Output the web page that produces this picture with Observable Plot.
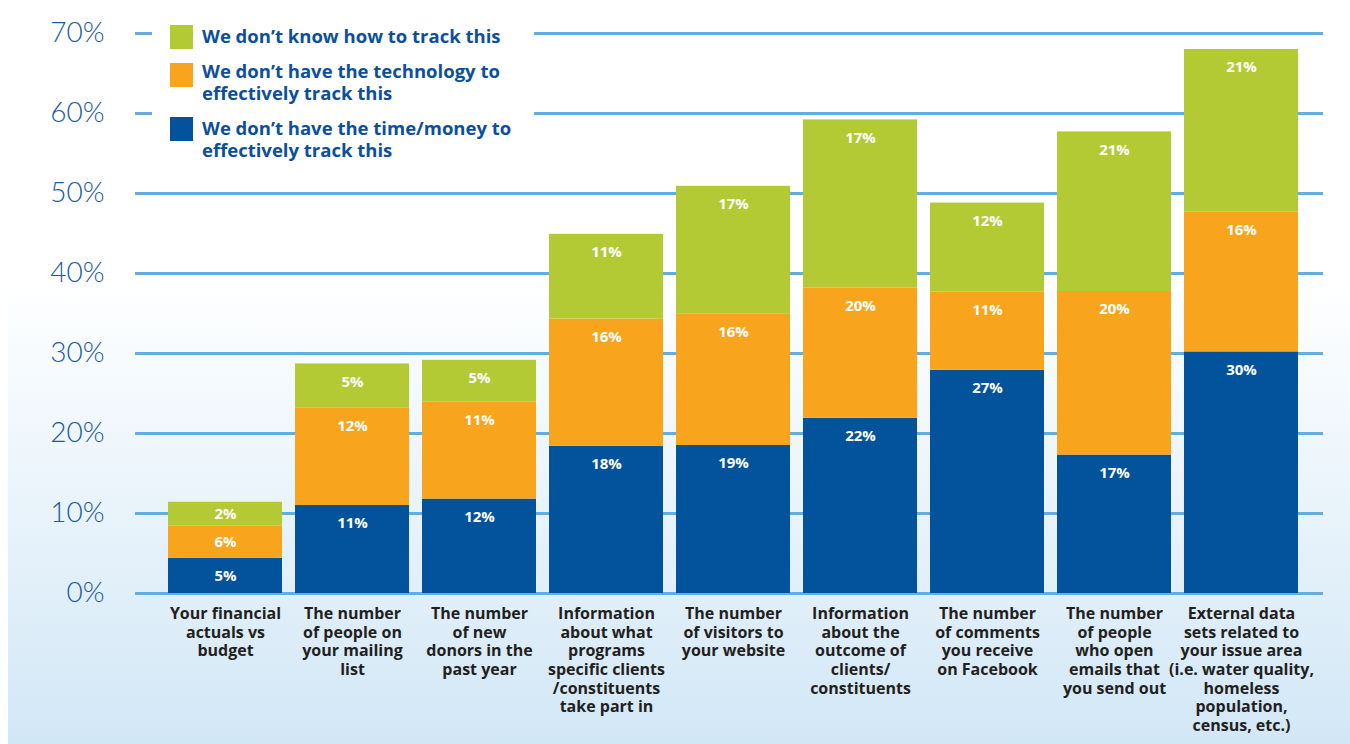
<!DOCTYPE html>
<html><head><meta charset="utf-8">
<script src="https://cdn.jsdelivr.net/npm/d3@7"></script>
<script src="https://cdn.jsdelivr.net/npm/@observablehq/plot@0.6"></script>
<style>
html,body{margin:0;padding:0;}
body{width:1350px;height:744px;overflow:hidden;position:relative;
background:linear-gradient(to right,#fff 0,#fff 8px,rgba(255,255,255,0) 8px),linear-gradient(to bottom,#fff 0,#fff 280px,#d2e7f6 744px);}
#chart{position:absolute;left:0;top:0;}
#legend{position:absolute;left:152px;top:14px;width:382px;height:150px;background:#fff;font-family:"Open Sans",sans-serif;font-weight:700;font-size:18.5px;color:#0c4f9b;}
.sw{position:absolute;left:18px;width:23px;height:24px;}
.lt{position:absolute;left:50px;line-height:22px;white-space:nowrap;}
g[aria-label="x-axis tick label"] text{font-weight:700;}
g[aria-label="y-axis tick label"] text{font-weight:300;}
</style>
</head><body>
<div id="chart"></div>
<div id="legend"></div>
<script>
const categories = [
  "Your financial\nactuals vs\nbudget",
  "The number\nof people on\nyour mailing\nlist",
  "The number\nof new\ndonors in the\npast year",
  "Information\nabout what\nprograms\nspecific clients\n/constituents\ntake part in",
  "The number\nof visitors to\nyour website",
  "Information\nabout the\noutcome of\nclients/\nconstituents",
  "The number\nof comments\nyou receive\non Facebook",
  "The number\nof people\nwho open\nemails that\nyou send out",
  "External data\nsets related to\nyour issue area\n(i.e. water quality,\nhomeless\npopulation,\ncensus, etc.)"
];
const series = [
  "We don’t have the time/money to\neffectively track this",
  "We don’t have the technology to\neffectively track this",
  "We don’t know how to track this"
];
const colors = ["#03529c", "#f8a51d", "#b3ca34"];
const timeMoney  = [4.4, 11.0, 11.8, 18.4, 18.5, 21.9, 27.9, 17.3, 30.2];
const technology = [4.05, 12.2, 12.15, 15.9, 16.4, 16.3, 9.8, 20.45, 17.5];
const dontKnow   = [2.95, 5.5, 5.2, 10.6, 16.0, 21.0, 11.1, 19.95, 20.3];
const timeMoneyLabels  = [5, 11, 12, 18, 19, 22, 27, 17, 30];
const technologyLabels = [6, 12, 11, 16, 16, 20, 11, 20, 16];
const dontKnowLabels   = [2, 5, 5, 11, 17, 17, 12, 21, 21];
const yTicks = [0, 10, 20, 30, 40, 50, 60, 70];

const valueSets = [timeMoney, technology, dontKnow];
const labelSets = [timeMoneyLabels, technologyLabels, dontKnowLabels];
const data = [];
categories.forEach((c, i) => {
  series.forEach((s, k) => data.push({cat: c, series: s, v: valueSets[k][i], label: labelSets[k][i]}));
});

const labelStyle = {fill: "white", fontSize: 15, fontWeight: 700, fontFamily: "Open Sans"};

const chart = Plot.plot({
  width: 1350, height: 744,
  marginTop: 33, marginBottom: 151, marginLeft: 135, marginRight: 27,
  style: {fontFamily: "'Open Sans', sans-serif", background: "transparent", overflow: "visible"},
  x: {domain: categories, paddingInner: 0.1, paddingOuter: 0.194, align: 0.58, axis: null},
  y: {domain: [0, 70], axis: null},
  color: {domain: series, range: colors},
  marks: [
    Plot.ruleY(yTicks, {stroke: "#62ade2", strokeWidth: 3}),
    Plot.axisY({ticks: yTicks, tickFormat: d => d + "%", tickSize: 0, tickPadding: 31, fontSize: 28, fontWeight: 300, fontFamily: "Lato", fill: "#1b5aa3", label: null}),
    Plot.axisX({tickSize: 0, tickPadding: 12, fontSize: 16, fontWeight: 700, fill: "#231f20", lineHeight: 1.17, label: null}),
    Plot.barY(data, {x: "cat", y: "v", fill: "series", order: series}),
    Plot.text(data, Plot.stackY({x: "cat", y: "v", z: "series", order: series,
      text: d => d.v < 5 ? d.label + "%" : "", ...labelStyle})),
    Plot.text(data, Plot.stackY2({x: "cat", y: "v", z: "series", order: series,
      text: d => d.v >= 5 ? d.label + "%" : "", dy: 18, ...labelStyle}))
  ]
});
document.getElementById("chart").appendChild(chart);

// legend (top to bottom: don't know, technology, time/money)
const legend = document.getElementById("legend");
const legendOrder = [2, 1, 0];
const textTops = [11, 46, 103];
const swatchTops = [11, 49, 103];
legendOrder.forEach((k, j) => {
  const sw = document.createElement("div");
  sw.className = "sw"; sw.style.top = swatchTops[j] + "px"; sw.style.background = colors[k];
  legend.appendChild(sw);
  const t = document.createElement("div");
  t.className = "lt"; t.style.top = textTops[j] + "px";
  series[k].split("\n").forEach((line, n) => {
    if (n) t.appendChild(document.createElement("br"));
    t.appendChild(document.createTextNode(line));
  });
  legend.appendChild(t);
});
</script>
</body></html>
